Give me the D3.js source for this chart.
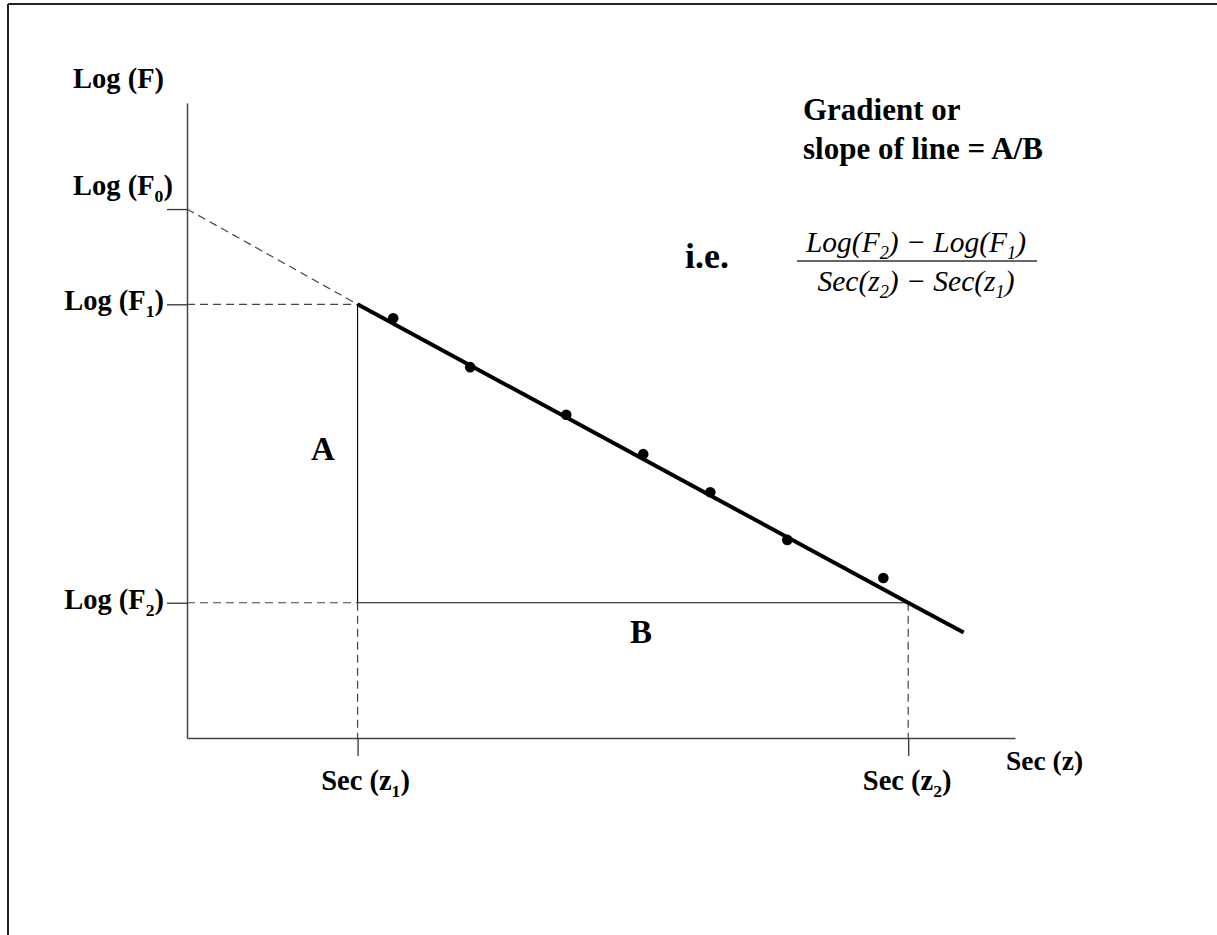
<!DOCTYPE html>
<html>
<head>
<meta charset="utf-8">
<script src="https://cdn.jsdelivr.net/npm/d3@7"></script>
<style>
  html, body { margin: 0; padding: 0; background: #fff; }
  svg { display: block; }
  .lbl { font-family: "Liberation Serif", "Times New Roman", serif; font-weight: bold; fill: #000; }
  .math { font-family: "Liberation Serif", "Times New Roman", serif; font-style: italic; fill: #000; }
</style>
</head>
<body>
<svg id="chart" width="1217" height="935"></svg>
<script>
// Sec(z) positions of the two reference readings (arbitrary units)
const secZ = { z1: 20.6, z2: 87.1 };
// Log(F) levels: intercept and the two readings
const logF = { F0: 83.3, F1: 68.3, F2: 21.3 };
// Measured observations
const obsSec = [24.9, 34.2, 45.8, 55.1, 63.2, 72.5, 84.1];
const obsLog = [66.1, 58.4, 50.9, 44.7, 38.7, 31.2, 25.2];
// Best-fit line, from the first reading past the second
const fitSec = [20.6, 87.1, 93.8];
const fitLog = [68.3, 21.3, 16.6];

const svg = d3.select("#chart");

const x = d3.scaleLinear().domain([0, 100]).range([187, 1015]);
const y = d3.scaleLinear().domain([0, 100]).range([738, 103]);

// frame (top and left edges only)
svg.append("line").attr("x1", 8).attr("x2", 1217).attr("y1", 4).attr("y2", 4)
  .attr("stroke", "#222").attr("stroke-width", 2);
svg.append("line").attr("x1", 8).attr("x2", 8).attr("y1", 4).attr("y2", 935)
  .attr("stroke", "#222").attr("stroke-width", 2);

// axes with ticks only at the named readings
const yAxis = d3.axisLeft(y).tickValues([logF.F0, logF.F1, logF.F2])
  .tickSize(20).tickSizeOuter(0).tickFormat("");
const xAxis = d3.axisBottom(x).tickValues([secZ.z1, secZ.z2])
  .tickSize(18).tickSizeOuter(0).tickFormat("");

const gy = svg.append("g").attr("transform", `translate(${x(0)},0)`).call(yAxis);
const gx = svg.append("g").attr("transform", `translate(0,${y(0)})`).call(xAxis);
[gy, gx].forEach(g => {
  g.selectAll("path.domain").attr("stroke", "#444").attr("stroke-width", 1.5);
  g.selectAll(".tick line").attr("stroke", "#333").attr("stroke-width", 1.3);
});

const dash = "8,5";
function seg(x1, y1, x2, y2, opts) {
  return svg.append("line")
    .attr("x1", x(x1)).attr("y1", y(y1)).attr("x2", x(x2)).attr("y2", y(y2))
    .attr("stroke", opts.color || "#222")
    .attr("stroke-width", opts.width || 1.2)
    .attr("stroke-dasharray", opts.dashed ? dash : null);
}

// guide lines
seg(0, logF.F0, secZ.z1, logF.F1, { dashed: true, color: "#444" });   // extrapolation to intercept
seg(0, logF.F1, secZ.z1, logF.F1, { dashed: true, color: "#444" });
seg(0, logF.F2, secZ.z1, logF.F2, { dashed: true, color: "#444" });
seg(secZ.z1, logF.F2, secZ.z2, logF.F2, { color: "#111" });          // side B
seg(secZ.z1, logF.F1, secZ.z1, logF.F2, { color: "#111" });          // side A
seg(secZ.z1, logF.F2, secZ.z1, 0, { dashed: true, color: "#444" });
seg(secZ.z2, logF.F2, secZ.z2, 0, { dashed: true, color: "#444" });

// best-fit line
const fitData = fitSec.map((s, i) => [s, fitLog[i]]);
svg.append("path")
  .datum(fitData)
  .attr("fill", "none")
  .attr("stroke", "#000")
  .attr("stroke-width", 4)
  .attr("d", d3.line().x(d => x(d[0])).y(d => y(d[1])));

// observations
svg.selectAll("circle.obs")
  .data(obsSec.map((s, i) => [s, obsLog[i]]))
  .join("circle")
  .attr("class", "obs")
  .attr("cx", d => x(d[0]))
  .attr("cy", d => y(d[1]))
  .attr("r", 5.3)
  .attr("fill", "#000");

// text helper: parts = [[text, isSub], ...]
function label(px, py, parts, opts) {
  const size = opts.size || 28;
  const t = svg.append("text")
    .attr("class", opts.cls || "lbl")
    .attr("x", px).attr("y", py)
    .attr("font-size", size)
    .attr("text-anchor", opts.anchor || "start");
  let shifted = 0;
  parts.forEach(([s, sub]) => {
    const sp = t.append("tspan").text(s);
    if (sub) {
      sp.attr("font-size", size * 0.62).attr("dy", size * 0.24);
      shifted = size * 0.24;
    } else if (shifted) {
      sp.attr("dy", -shifted);
      shifted = 0;
    }
  });
  return t;
}

// axis titles
label(73, 88, [["Log (F)"]], { size: 28.5 });
label(1006, 770, [["Sec (z)"]], { size: 27.5 });

// y tick labels
label(73, 195, [["Log (F"], ["0", true], [")"]], { size: 28.5 });
label(164, y(logF.F1) + 6, [["Log (F"], ["1", true], [")"]], { size: 28.5, anchor: "end" });
label(164, y(logF.F2) + 6, [["Log (F"], ["2", true], [")"]], { size: 28.5, anchor: "end" });

// x tick labels
label(x(secZ.z1) + 8, 790, [["Sec (z"], ["1", true], [")"]], { size: 28.5, anchor: "middle" });
label(x(secZ.z2) - 1, 790, [["Sec (z"], ["2", true], [")"]], { size: 28.5, anchor: "middle" });

// triangle sides
label(323, 460, [["A"]], { size: 33, anchor: "middle" });
label(641, 643, [["B"]], { size: 33, anchor: "middle" });

// gradient note
label(803, 120, [["Gradient or"]], { size: 31 });
label(803, 159, [["slope of line = A/B"]], { size: 31 });
label(685, 268, [["i.e."]], { size: 36 });

// fraction
const fx = 916;
label(fx, 252, [["Log(F"], ["2", true], [") \u2212 Log(F"], ["1", true], [")"]], { cls: "math", size: 29.5, anchor: "middle" });
svg.append("line").attr("x1", 797).attr("x2", 1037).attr("y1", 261).attr("y2", 261)
  .attr("stroke", "#333").attr("stroke-width", 1.3);
label(fx, 291, [["Sec(z"], ["2", true], [") \u2212 Sec(z"], ["1", true], [")"]], { cls: "math", size: 29.5, anchor: "middle" });
</script>
</body>
</html>
